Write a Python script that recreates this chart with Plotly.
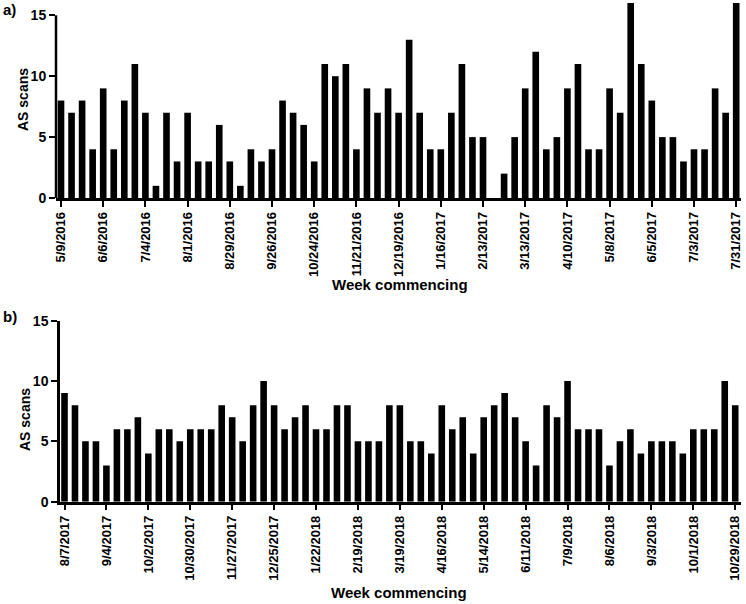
import plotly.graph_objects as go

W, H = 746, 604

# ---- Data ----
scans_a = [8, 7, 8, 4, 9, 4, 8, 11, 7, 1, 7, 3, 7, 3, 3, 6, 3, 1, 4, 3,
           4, 8, 7, 6, 3, 11, 10, 11, 4, 9, 7, 9, 7, 13, 7, 4, 4, 7, 11, 5,
           5, 0, 2, 5, 9, 12, 4, 5, 9, 11, 4, 4, 9, 7, 16, 11, 8, 5, 5, 3,
           4, 4, 9, 7, 16]
ticks_a = ["5/9/2016", "6/6/2016", "7/4/2016", "8/1/2016", "8/29/2016",
           "9/26/2016", "10/24/2016", "11/21/2016", "12/19/2016", "1/16/2017",
           "2/13/2017", "3/13/2017", "4/10/2017", "5/8/2017", "6/5/2017",
           "7/3/2017", "7/31/2017"]

scans_b = [9, 8, 5, 5, 3, 6, 6, 7, 4, 6, 6, 5, 6, 6, 6, 8, 7, 5, 8,
           10, 8, 6, 7, 8, 6, 6, 8, 8, 5, 5, 5, 8, 8, 5, 5, 4, 8, 6, 7, 4, 7,
           8, 9, 7, 5, 3, 8, 7, 10, 6, 6, 6, 3, 5, 6, 4, 5, 5, 5, 4, 6, 6, 6,
           10, 8]
ticks_b = ["8/7/2017", "9/4/2017", "10/2/2017", "10/30/2017", "11/27/2017",
           "12/25/2017", "1/22/2018", "2/19/2018", "3/19/2018", "4/16/2018",
           "5/14/2018", "6/11/2018", "7/9/2018", "8/6/2018", "9/3/2018",
           "10/1/2018", "10/29/2018"]
y_ticks = [0, 5, 10, 15]
tick_step = 4

FONT = "Liberation Sans"

fig = go.Figure()
fig.add_trace(go.Bar(x=list(range(len(scans_a))), y=scans_a, marker_color="black",
                     marker_line_width=0, xaxis="x", yaxis="y", showlegend=False,
                     cliponaxis=False))
fig.add_trace(go.Bar(x=list(range(len(scans_b))), y=scans_b, marker_color="black",
                     marker_line_width=0, xaxis="x2", yaxis="y2", showlegend=False))

def px_x(p):
    return p / W

def px_y(p):
    return 1 - p / H

xcommon = dict(showgrid=False, zeroline=False, showline=True, linecolor="black", linewidth=2.5,
               ticks="outside", ticklen=6, tickwidth=2, tickcolor="black", tickangle=-90,
               automargin=False,
               tickfont=dict(family=FONT, size=13, color="black", weight="bold"))
ycommon = dict(showgrid=False, zeroline=False, ticks="outside", ticklen=6, tickwidth=2,
               tickcolor="black", tickvals=y_ticks, automargin=False,
               tickfont=dict(family=FONT, size=14, color="black", weight="bold"))

sp_a = 10.55
sp_b = 10.48
fig.update_layout(
    width=W, height=H, margin=dict(l=0, r=0, t=0, b=0, autoexpand=False),
    paper_bgcolor="white", plot_bgcolor="white", bargap=0.37,
    xaxis=dict(domain=[px_x(56), px_x(741)], anchor="y",
               range=[-(61 - 56) / sp_a, (741 - 61) / sp_a],
               tickvals=list(range(0, len(scans_a), tick_step)), ticktext=ticks_a, **xcommon),
    yaxis=dict(domain=[px_y(198), 1.0], anchor="x", range=[0, 198 / 12.18],
               showline=False, **ycommon),
    xaxis2=dict(domain=[px_x(60), px_x(741)], anchor="y2",
                range=[-(64.5 - 60) / sp_b, (741 - 64.5) / sp_b],
                tickvals=list(range(0, len(scans_b), tick_step)), ticktext=ticks_b, **xcommon),
    yaxis2=dict(domain=[px_y(501.7), px_y(320.7)], anchor="x2", range=[0, 15],
                showline=True, linecolor="black", linewidth=2.5, **ycommon),
)

# y-axis line of panel a drawn only up to the top tick
fig.add_shape(type="line", xref="x domain", yref="y", x0=0, x1=0, y0=0, y1=max(y_ticks),
              line=dict(color="black", width=2.5))

ann = []
def add_text(text, x, y, size, angle=0):
    ann.append(dict(text=text, x=px_x(x), y=px_y(y), xref="paper", yref="paper",
                    showarrow=False, textangle=angle, xanchor="center", yanchor="middle",
                    font=dict(family=FONT, size=size, color="black", weight="bold")))

add_text("a)", 9, 9, 15)
add_text("b)", 10, 316, 15)
add_text("AS scans", 23, 100, 14, -90)
add_text("AS scans", 25, 420, 14, -90)
add_text("Week commencing", 400, 284, 15)
add_text("Week commencing", 399, 592, 15)
fig.update_layout(annotations=ann)

fig.write_html("out.html", config={"displayModeBar": False},
               post_script="document.body.style.margin='0px';document.body.style.overflow='hidden';")
